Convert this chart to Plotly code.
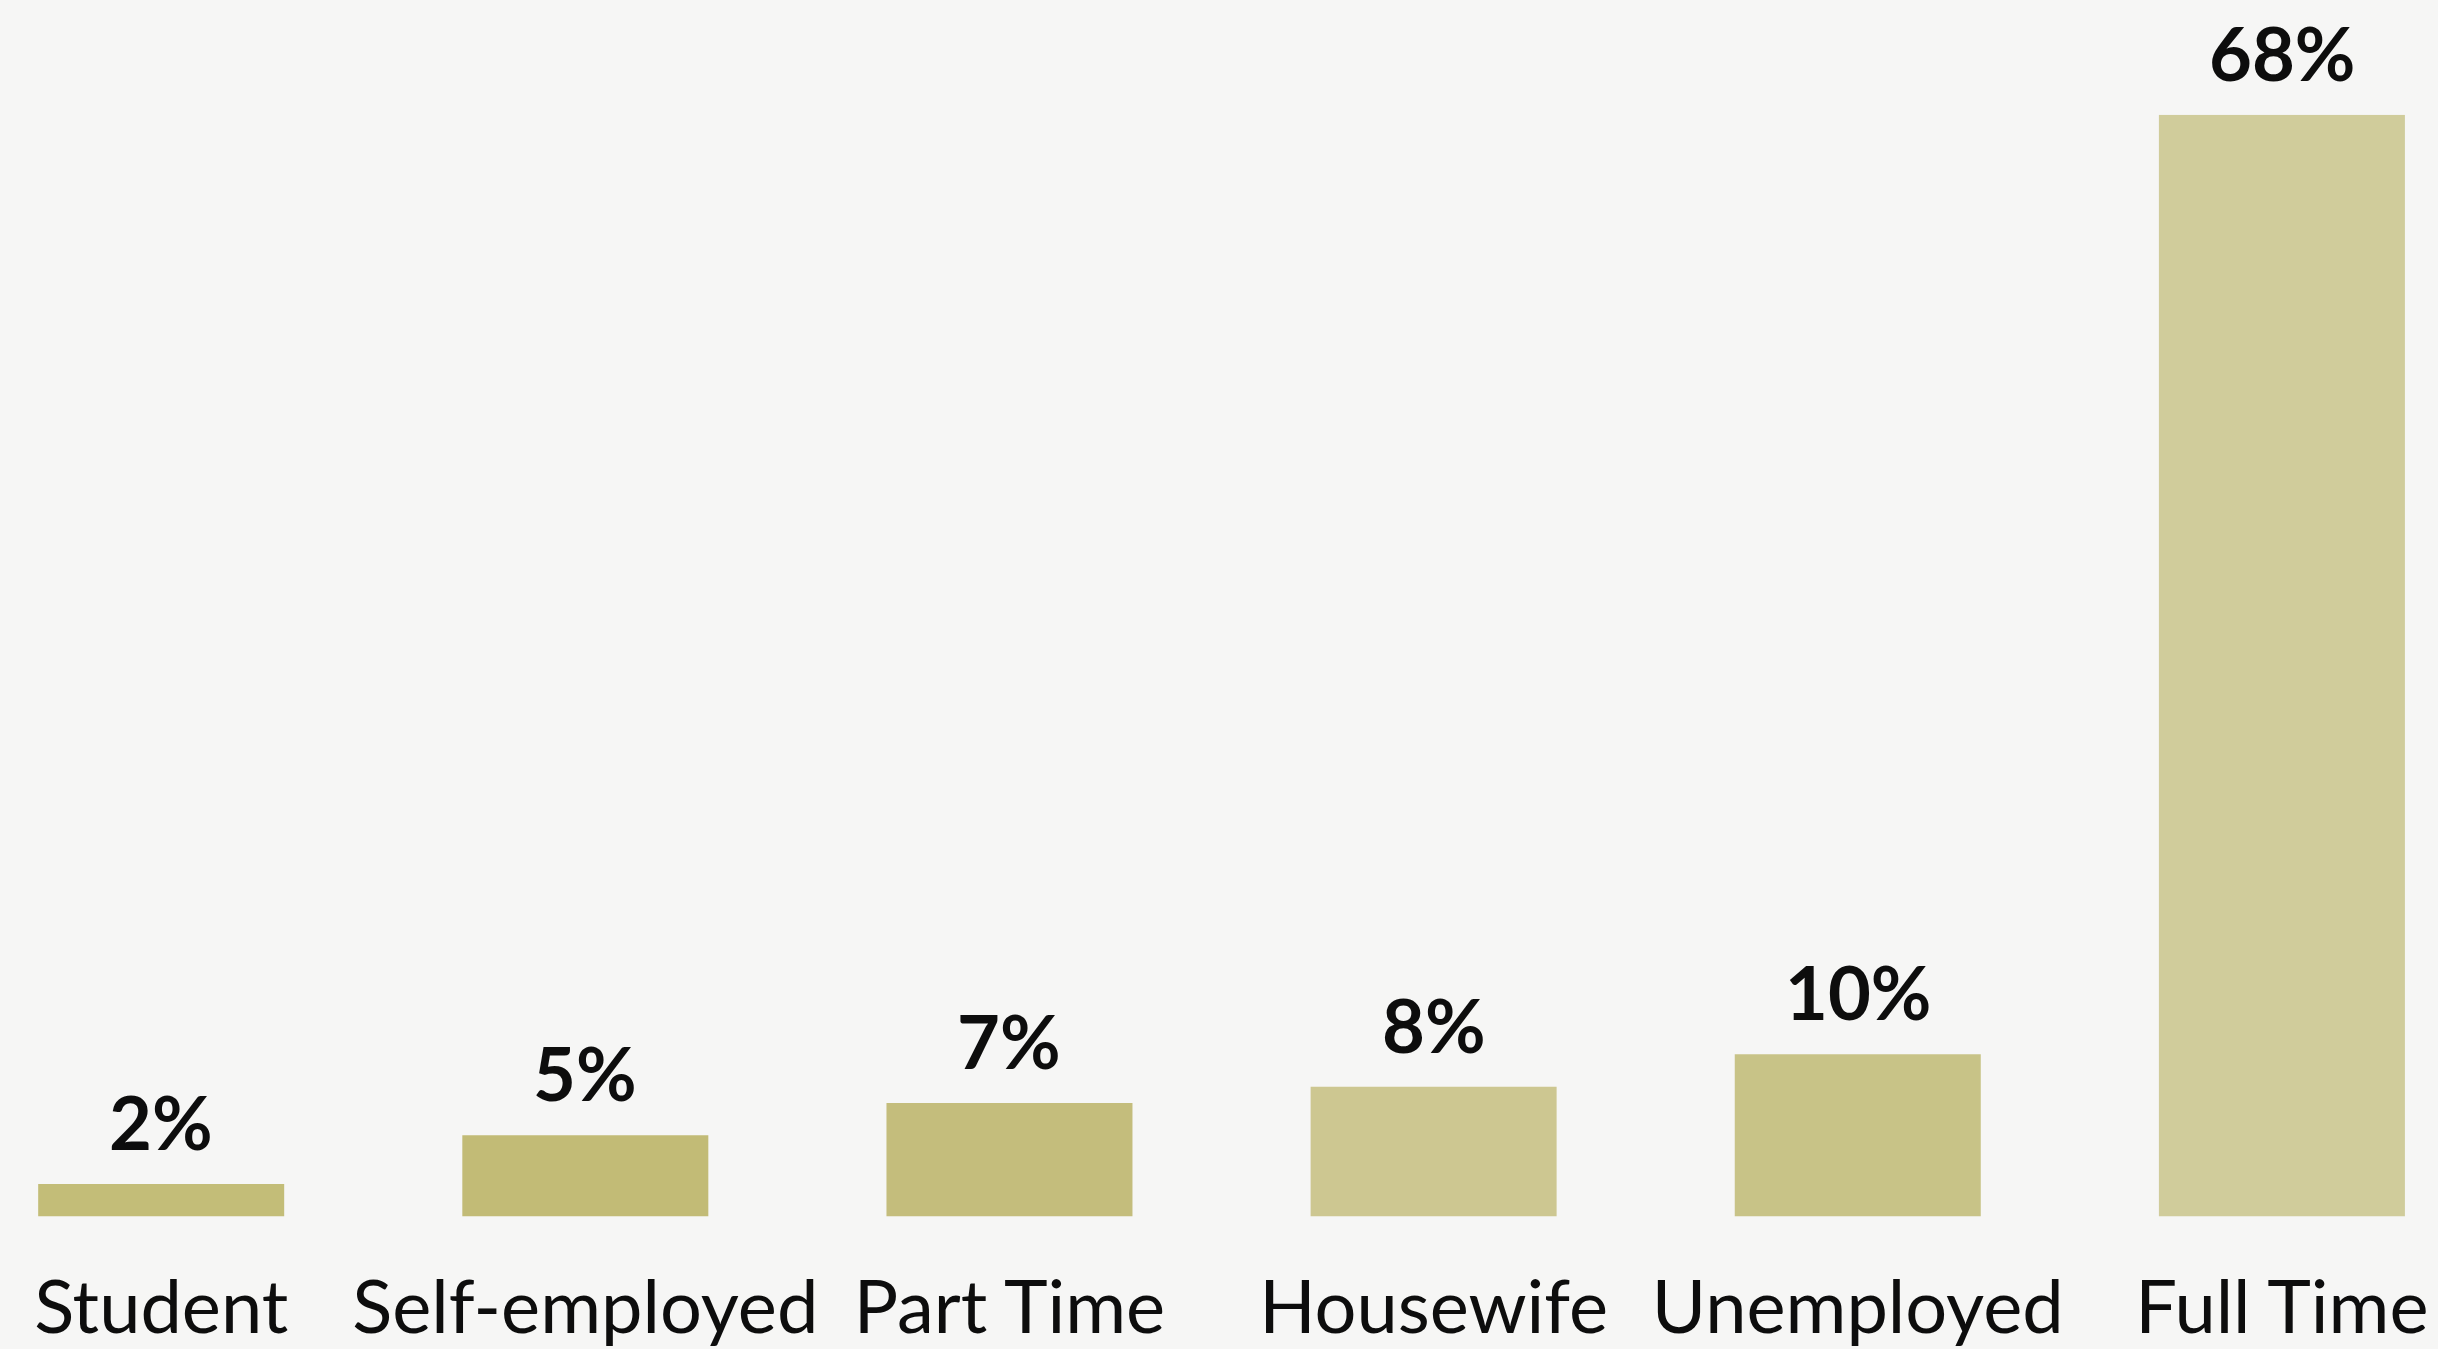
import plotly.graph_objects as go

# Employment status of respondents (share, %)
categories = ["Student", "Self-employed", "Part Time", "Housewife", "Unemployed", "Full Time"]
shares = [2, 5, 7, 8, 10, 68]
value_labels = ["2%", "5%", "7%", "8%", "10%", "68%"]
bar_colors = ["#c3bd78", "#c2bb76", "#c4bd7c", "#cdc791", "#c8c387", "#d0cc9b"]

FONT = "Lato, 'Noto Sans', sans-serif"
W, H = 2438, 1349

fig = go.Figure()
fig.add_trace(go.Bar(
    x=categories,
    y=shares,
    width=0.58,
    marker=dict(color=bar_colors, line=dict(width=0)),
    hoverinfo="skip",
))

# percentage labels sitting above each bar
for cat, val, lab in zip(categories, shares, value_labels):
    fig.add_annotation(
        x=cat, y=val, text=lab, showarrow=False,
        xanchor="center", yanchor="bottom", yshift=16,
        font=dict(family=FONT, size=74, color="#0d0d0d", weight="bold"),
    )

fig.update_layout(
    width=W, height=H,
    margin=dict(l=0, r=0, t=0, b=0),
    paper_bgcolor="#f6f6f5",
    plot_bgcolor="#f6f6f5",
    showlegend=False,
    bargap=0.42,
    xaxis=dict(
        type="category",
        range=[-0.38, 5.368],
        showgrid=False, zeroline=False, showline=False,
        ticks="", ticklabelstandoff=42,
        tickfont=dict(family=FONT, size=74, color="#0d0d0d"),
        fixedrange=True,
    ),
    yaxis=dict(
        range=[0, 68],
        domain=[(H - 1220) / H, (H - 115) / H],
        showgrid=False, zeroline=False, showline=False,
        showticklabels=False, ticks="",
        fixedrange=True,
    ),
)

fig.write_html("out.html")
